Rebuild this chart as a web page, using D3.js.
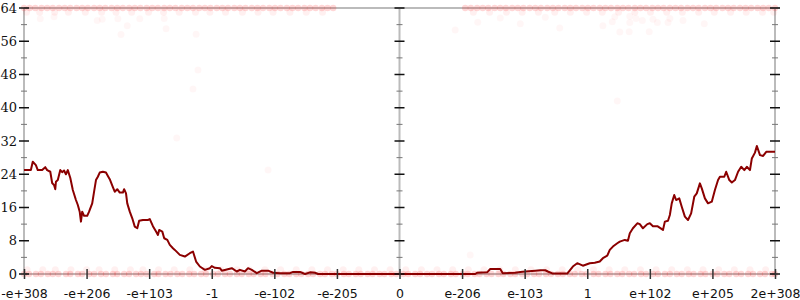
<!DOCTYPE html>
<html>
<head>
<meta charset="utf-8">
<script src="https://cdn.jsdelivr.net/npm/d3@7"></script>
<style>
  body { margin: 0; background: #fff; }
  .ylab { font-family: "DejaVu Serif", serif; font-size: 13px; fill: #111; }
  .xlab { font-family: "DejaVu Sans", sans-serif; font-size: 12.5px; fill: #111; }
</style>
</head>
<body>
<script>
// x positions are in "slot" units, -60 .. 60, one label every 10 slots
const xTickValues = [-60, -50, -40, -30, -20, -10, 0, 10, 20, 30, 40, 50, 60];
const xTickLabels = ['-e+308', '-e+206', '-e+103', '-1', '-e-102', '-e-205', '0',
  'e-206', 'e-103', '1', 'e+102', 'e+205', '2e+308'];
const yMajor = [0, 8, 16, 24, 32, 40, 48, 56, 64];
const yMinor = [4, 12, 20, 28, 36, 44, 52, 60];

// running line
const lineX = [-60, -58.9, -58.6, -58.1, -57.8, -57.1, -56.6, -56.3, -55.8, -55.5, -55.2, -55.0, -54.9, -54.6,
  -54.2, -53.9, -53.6, -53.3, -53.0, -52.6, -52.2, -51.7, -51.4, -51.1, -50.9, -50.7, -50.4, -49.9, -49.6,
  -49.1, -48.8, -48.5, -48.2, -47.9, -47.4, -46.9, -46.6, -46.3, -45.8, -45.5, -45.1, -44.7, -44.2, -44.0,
  -43.7, -43.5, -43.1, -42.7, -42.3, -41.9, -41.6, -41.0, -40.2, -39.9, -39.4, -38.9, -38.6, -38.4, -37.9,
  -37.6, -37.1, -36.7, -36.2, -35.9, -35.1, -34.3, -33.5, -33.0, -32.5, -31.9, -31.1, -30.3, -30.0, -29.5,
  -28.7, -28.4, -27.6, -26.8, -26.0, -25.5, -24.7, -24.2, -23.6, -22.8, -22.0, -21.0, -20.2, -19.1, -17.5,
  -17.0, -15.9, -15.1, -14.3, -13.5, -13.0, 12.1, 12.4, 14.0, 14.5, 16.1, 16.5, 18.5, 19.3, 20.1, 21.7,
  22.5, 23.3, 23.7, 24.5, 26.8, 27.7, 28.4, 29.3, 30.4, 31.2, 32.0, 32.5, 33.2, 33.6, 34.1, 34.8, 35.2,
  36.0, 36.5, 36.8, 37.3, 38.0, 38.4, 38.9, 39.6, 40.0, 40.5, 41.2, 42.1, 42.4, 42.9, 43.2, 43.5, 43.9,
  44.2, 44.7, 45.1, 45.6, 46.1, 46.6, 47.1, 47.5, 48.0, 48.3, 48.8, 49.3, 49.9, 50.4, 50.9, 51.2, 51.9,
  52.2, 52.7, 53.1, 53.6, 54.1, 54.6, 55.1, 55.5, 56.0, 56.3, 56.8, 57.1, 57.6, 58.1, 58.6, 60];
const lineY = [25, 25, 27, 26.2, 25, 25, 25.7, 25, 24.6, 21.9, 21.4, 20.4, 22.2, 22.6,
  25, 24.5, 24.9, 24, 25, 23.1, 20.2, 17.8, 16.6, 15, 12.6, 15, 14, 14, 15,
  17, 19.8, 22.6, 23.4, 24.4, 24.6, 24.4, 23.6, 22.8, 20.9, 19.8, 20.4, 19.6, 19.6, 20.4,
  19.4, 17, 15, 13.4, 11.4, 11, 12.8, 13, 13, 13.2, 11.5, 10.2, 9.4, 10.6, 10.2,
  8.6, 8.2, 7, 6.2, 5.8, 4.6, 4.2, 5, 5.4, 3, 1.8, 1, 1.4, 1.9, 1.5,
  1.4, 0.8, 1.1, 1.4, 0.6, 1, 0.6, 1.4, 1, 0.2, 0.8, 0.8, 0.3, 0.2, 0.2,
  0.5, 0.5, 0, 0.4, 0.3, 0, 0, 0.3, 0.4, 1.2, 1.2, 0.2, 0.3, 0.5, 0.6, 0.8,
  0.9, 0.9, 0.6, 0.1, 0.1, 1.8, 2.6, 2, 2.6, 2.7, 3, 3.8, 4.4, 5.8, 6.6, 7.4, 7.8,
  8.2, 8.0, 9.8, 11, 12.2, 12, 11, 12, 12.2, 11.5, 11.5, 10.6, 12.6, 12.8, 14.2, 17, 19,
  17.8, 18.2, 16.2, 13.8, 13, 14.6, 18.6, 19.4, 21.8, 20.6, 18.2, 17, 17.4, 20.2, 22.6, 23.4, 23.4,
  24.6, 22.6, 22, 22.6, 24.6, 25.8, 25, 25.8, 25, 27.8, 29.2, 30.8, 28.6, 28.4, 29.4, 29.4];

// sample dots: rows along the bottom (value 0 and 1) and top (64 and 63)
const lowEdgeX = [-60, -59.2, -58.1, -57.3, -56.2, -55.4, -54.5, -53.3, -52.6, -51.4, -50.7, -49.6, -48.8,
  -47.7, -46.9, -45.8, -45.1, -44.0, -43.2, -42.1, -41.3, -40.4, -39.2, -38.5, -37.4, -36.6, -35.5, -34.7,
  -33.6, -32.8, -31.7, -30.9, -29.8, -29.0, -27.9, -27.1, -26.0, -25.2, -24.1, -23.3, -22.2, -21.4, -20.3,
  -19.5, -18.4, -17.6, -16.5, -15.7, -14.6, -13.8, -12.7, -11.9, -10.8, -10.0, -8.9, -8.1, -7.0, -6.2, -5.1,
  -4.3, -3.2, -2.4, -1.3, -0.5, 0.6, 1.4, 2.5, 3.3, 4.4, 5.2, 6.3, 7.1, 8.2, 9.0, 10.1, 10.9, 12.0, 12.8,
  13.9, 14.7, 15.8, 16.6, 17.7, 18.5, 19.6, 20.4, 21.5, 22.3, 23.4, 24.2, 25.3, 26.1, 27.2, 28.0, 29.1,
  29.9, 31.0, 31.8, 32.9, 33.7, 34.8, 35.6, 36.7, 37.5, 38.6, 39.4, 40.5, 41.3, 42.4, 43.2, 44.3, 45.1,
  46.2, 47.0, 48.1, 48.9, 50.0, 50.8, 51.9, 52.7, 53.8, 54.6, 55.7, 56.5, 57.6, 58.4, 59.5, 60];
const lowFringeX = [-59.5, -57, -55, -52.5, -50, -48, -45.5, -43, -41, -38.5, -36, -33.5, -31, -28.5,
  -26, -24, -21.5, -19, -16.5, -14, -11.5, -9, -6.5, -4, -1.5, 1, 3.5, 6, 8.5, 11, 13.5, 16, 18.5, 21,
  23.5, 26, 28.5, 31, 33.5, 36, 38.5, 41, 43.5, 46, 48.5, 51, 53.5, 56, 58.5];
const highEdgeX = [-60, -59.1, -58.2, -57.2, -56.3, -55.4, -54.4, -53.5, -52.6, -51.6, -50.7, -49.8,
  -48.8, -47.9, -47.0, -46.0, -45.1, -44.2, -43.2, -42.3, -41.4, -40.4, -39.5, -38.6, -37.6, -36.7, -35.8,
  -34.8, -33.9, -33.0, -32.0, -31.1, -30.2, -29.2, -28.3, -27.4, -26.4, -25.5, -24.6, -23.6, -22.7, -21.8,
  -20.8, -19.9, -19.0, -18.0, -17.1, -16.2, -15.2, -14.3, -13.4, -12.4, -11.5, -10.6,
  10.5, 11.4, 12.4, 13.3, 14.2, 15.2, 16.1, 17.0, 18.0, 18.9, 19.8, 20.8, 21.7, 22.6, 23.6, 24.5, 25.4,
  26.4, 27.3, 28.2, 29.2, 30.1, 31.0, 32.0, 32.9, 33.8, 34.8, 35.7, 36.6, 37.6, 38.5, 39.4, 40.4, 41.3,
  42.2, 43.2, 44.1, 45.0, 46.0, 46.9, 47.8, 48.8, 49.7, 50.6, 51.6, 52.5, 53.4, 54.4, 55.3, 56.2, 57.2,
  58.1, 59.0, 60];
const highFringeX = [-59.6, -57.5, -55.1, -52.9, -50.2, -47.6, -45.3, -42.8, -40.1, -37.7, -35.2,
  -32.6, -30.3, -27.8, -25.1, -22.6, -20.2, -17.5, -14.9, -12.3, 11.8, 14.4, 17.1, 19.6, 22.2, 24.8,
  27.3, 29.9, 32.4, 35.0, 37.6, 40.1, 42.7, 45.2, 47.8, 50.3, 52.9, 55.4, 58.0, 59.8];
const strayX = [-57.4, -55.2, -48.3, -47.5, -45.0, -43.5, -44.5, -41.5, -37.6, -37.3, -32.5, -32.2, -33.0,
  34.4, 34.0, 32.5, 36.8, 36.8, 37.8, 38.8, 40.5, 41.2, 42.9, 43.2, 45.3, 48.7, 35.2, 36.7, 39.9,
  -35.6, 34.8, 11.3, -21.0, 12.5, 16.1, 19.3, 23.3, 25.6, 8.9];
const strayY = [61.4, 61.9, 61, 61.3, 61.4, 59.7, 57.6, 61.4, 61.5, 59, 57.7, 49.1, 44.5,
  61.9, 60.7, 59.7, 62, 60.5, 61.5, 61, 61.3, 60.5, 60.5, 61.5, 61, 60.2, 58.2, 58.3, 58.3,
  32.7, 41.6, 4.6, 25, 60.6, 61.6, 60.2, 61.8, 59.2, 58.7];

const W = 800, H = 300;
const margin = { top: 8, right: 25, bottom: 26, left: 24 };

const svg = d3.select('body').append('svg')
  .attr('width', W).attr('height', H);

const x = d3.scaleLinear().domain([-60, 60]).range([margin.left, W - margin.right]);
const y = d3.scaleLinear().domain([0, 64]).range([H - margin.bottom, margin.top]);

// frame lines
const frame = svg.append('g').attr('stroke', '#bbb').attr('stroke-width', 2);
frame.append('line').attr('x1', x(-60)).attr('x2', x(60) + 5).attr('y1', y(64)).attr('y2', y(64));
frame.append('line').attr('x1', x(-60)).attr('x2', x(60)).attr('y1', y(0)).attr('y2', y(0));
[-60, 0, 60].forEach(v => {
  frame.append('line').attr('x1', x(v)).attr('x2', x(v)).attr('y1', y(64)).attr('y2', y(0));
});

// dots
const dots = [];
lowEdgeX.forEach(v => dots.push([v, 0, 'edge']));
lowFringeX.forEach(v => dots.push([v, 1, 'fringe']));
highEdgeX.forEach(v => dots.push([v, 64, 'edge']));
highFringeX.forEach(v => dots.push([v, 63, 'fringe']));
strayX.forEach((v, i) => dots.push([v, strayY[i], 'stray']));

const dotOpacity = { edge: 0.16, fringe: 0.06, stray: 0.035 };

svg.append('g').selectAll('circle')
  .data(dots)
  .enter().append('circle')
  .attr('cx', d => x(d[0]))
  .attr('cy', d => y(d[1]))
  .attr('r', d => d[2] === 'edge' ? 3.2 : 3.5)
  .attr('fill', '#f00')
  .attr('fill-opacity', d => dotOpacity[d[2]]);

// line
const linePts = lineX.map((v, i) => [v, lineY[i]]);
svg.append('path')
  .datum(linePts)
  .attr('fill', 'none')
  .attr('stroke', '#8b0000')
  .attr('stroke-width', 2)
  .attr('stroke-linejoin', 'round')
  .attr('d', d3.line().x(d => x(d[0])).y(d => y(d[1])));

// vertical axes (left one labelled)
[-60, 0, 60].forEach(v => {
  const g = svg.append('g').attr('transform', 'translate(' + x(v) + ',0)');
  g.selectAll('.minor').data(yMinor).enter().append('line')
    .attr('x1', -3).attr('x2', 3)
    .attr('y1', d => y(d)).attr('y2', d => y(d))
    .attr('stroke', '#777').attr('stroke-width', 1);
  g.selectAll('.major').data(yMajor).enter().append('line')
    .attr('x1', -5).attr('x2', 5)
    .attr('y1', d => y(d)).attr('y2', d => y(d))
    .attr('stroke', '#111').attr('stroke-width', 1.5);
  if (v === -60) {
    g.selectAll('text').data(yMajor).enter().append('text')
      .attr('class', 'ylab')
      .attr('x', -7)
      .attr('y', d => y(d))
      .attr('dy', '0.35em')
      .attr('text-anchor', 'end')
      .text(d => d);
  }
});

// bottom axis
const xAxis = d3.axisBottom(x)
  .tickValues(xTickValues)
  .tickSize(5)
  .tickPadding(10)
  .tickFormat((d, i) => xTickLabels[i]);
const xg = svg.append('g')
  .attr('transform', 'translate(0,' + y(0) + ')')
  .call(xAxis);
xg.select('.domain').remove();
xg.selectAll('.tick line').attr('y1', -5).attr('stroke', '#333').attr('stroke-width', 1.5);
xg.selectAll('.tick text').attr('class', 'xlab').attr('font-family', null).attr('font-size', null);
</script>
</body>
</html>
